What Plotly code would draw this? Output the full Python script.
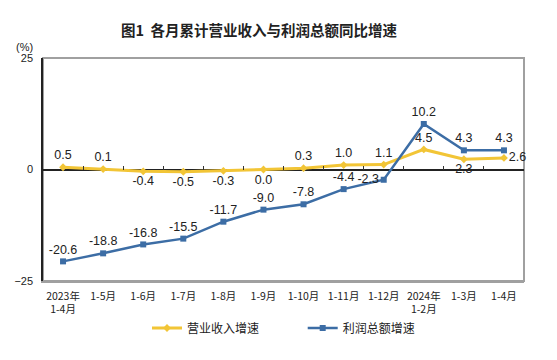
import plotly.graph_objects as go

categories = ["2023年<br>1-4月", "1-5月", "1-6月", "1-7月", "1-8月", "1-9月",
              "1-10月", "1-11月", "1-12月", "2024年<br>1-2月", "1-3月", "1-4月"]
revenue_growth = [0.5, 0.1, -0.4, -0.5, -0.3, 0.0, 0.3, 1.0, 1.1, 4.5, 2.3, 2.6]
profit_growth = [-20.6, -18.8, -16.8, -15.5, -11.7, -9.0, -7.8, -4.4, -2.3, 10.2, 4.3, 4.3]
revenue_label_pos = ["top center", "top center", "bottom center", "bottom center", "bottom center",
                     "bottom center", "top center", "top center", "top center", "top center",
                     "bottom center", "middle right"]
profit_label_pos = ["top center"] * 8 + ["middle left", "top center", "top center", "top center"]

YELLOW = "#F2C536"
BLUE = "#3C6DA5"
LABEL_FONT = dict(family="Liberation Sans, Arial", size=12.5, color="#222222")

fig = go.Figure()
fig.add_trace(go.Scatter(
    x=categories, y=revenue_growth, name="营业收入增速\u3000\u3000\u3000\u00a0",
    mode="lines+markers+text",
    line=dict(color=YELLOW, width=3), marker=dict(symbol="diamond", size=6, color=YELLOW),
    text=[f"{v:.1f}" for v in revenue_growth], textposition=revenue_label_pos,
    textfont=LABEL_FONT, cliponaxis=False,
))
fig.add_trace(go.Scatter(
    x=categories, y=profit_growth, name="利润总额增速", mode="lines+markers+text",
    line=dict(color=BLUE, width=2.5), marker=dict(symbol="square", size=6, color=BLUE),
    text=[f"{v:.1f}" for v in profit_growth], textposition=profit_label_pos,
    textfont=LABEL_FONT, cliponaxis=False,
))
# invisible trace on overlay axis for the zero-line tick marks
fig.add_trace(go.Scatter(x=categories, y=[None] * len(categories), xaxis="x2",
                         showlegend=False, hoverinfo="skip", mode="lines"))

# page body has an 8px margin; figure sized so visible area matches 557x360 layout
fig.update_layout(
    width=541, height=344,
    margin=dict(l=35, r=25, t=50, b=71, autoexpand=False),
    paper_bgcolor="white", plot_bgcolor="white",
    title=dict(text="<b>图1  各月累计营业收入与利润总额同比增速</b>",
               x=251 / 541, xanchor="center", y=1 - 23 / 344, yanchor="middle",
               font=dict(family="Noto Sans CJK SC", size=14.5, color="#222222")),
    xaxis=dict(type="category", range=[-0.5, 11.5], showgrid=False,
               showline=True, linecolor="#A0A0A0", linewidth=2, ticks="",
               ticklabelstandoff=4,
               tickfont=dict(family="Noto Sans CJK SC", size=10.5, color="#222222")),
    xaxis2=dict(type="category", range=[-0.5, 11.5], overlaying="x", anchor="free",
                position=0.5, side="bottom", showline=False, showticklabels=False,
                ticks="inside", tickson="boundaries", ticklen=4, tickcolor="#333333",
                showgrid=False),
    yaxis=dict(range=[-25, 25], tickvals=[-25, 0, 25], showgrid=False,
               zeroline=True, zerolinecolor="#222222", zerolinewidth=1.5,
               showline=True, linecolor="#222222", linewidth=1.5, ticks="",
               ticklabelstandoff=6,
               tickfont=dict(family="Liberation Sans, Arial", size=11, color="#222222")),
    legend=dict(orientation="h", x=0.5, xanchor="center",
                yref="container", y=1 - 320 / 344, yanchor="middle",
                font=dict(family="Noto Sans CJK SC", size=12, color="#222222"),
                itemwidth=30),
    shapes=[dict(type="rect", xref="paper", yref="paper", x0=0, x1=1, y0=0, y1=1,
                 line=dict(color="#A0A0A0", width=2), layer="below")],
    annotations=[dict(text="(%)", xref="paper", yref="paper", x=-19 / 481,
                      y=1 + 11 / 223, xanchor="center", yanchor="middle", showarrow=False,
                      font=dict(family="Liberation Sans, Arial", size=11, color="#222222"))],
)

fig.write_html("out.html")
